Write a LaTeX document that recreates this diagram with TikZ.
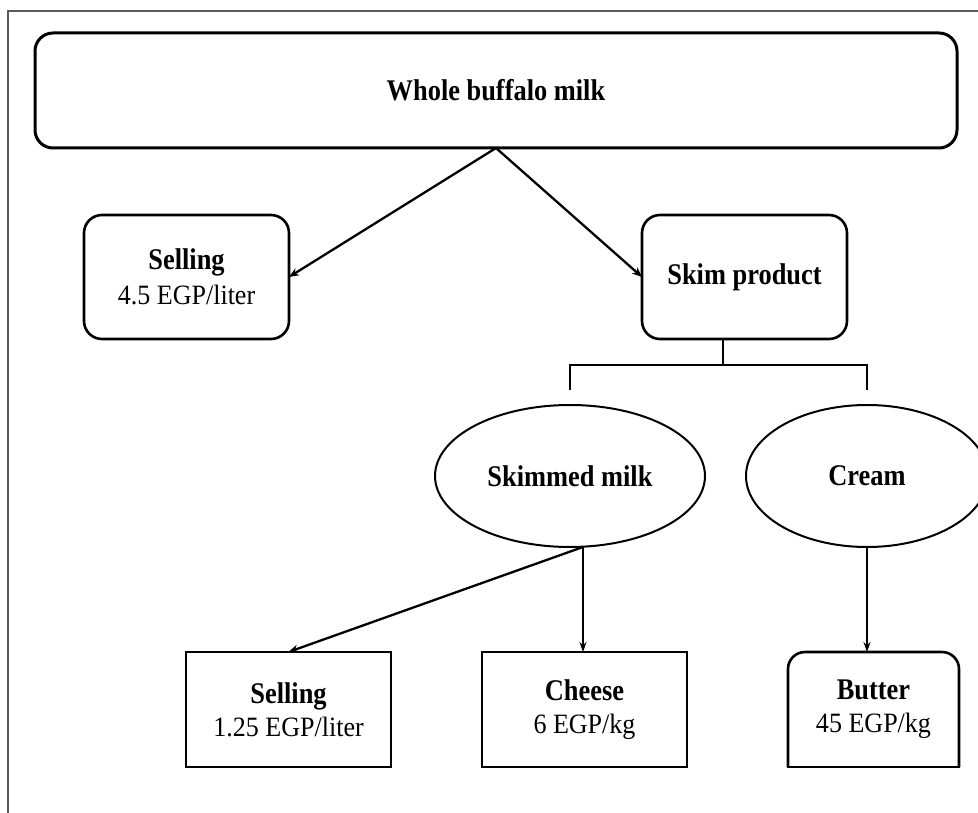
\documentclass[tikz,border=0pt]{standalone}
\usepackage{fontspec}
\setmainfont{Liberation Serif}[FakeStretch=0.88]
\newfontfamily\subfont{Liberation Serif}[FakeStretch=0.93]
\newcommand{\subtext}[1]{{\subfont\fontsize{28}{30}\selectfont\mdseries #1}}
\usetikzlibrary{arrows.meta,shapes.geometric}
\begin{document}
\begin{tikzpicture}[x=1pt,y=-1pt,
  every node/.style={inner sep=0pt,outer sep=0pt},
  rbox/.style={draw,line width=2.6pt,rounded corners=18pt,align=center,minimum width=205pt,minimum height=124pt,font=\fontsize{30}{32}\selectfont\bfseries},
  sbox/.style={draw,line width=2.6pt,align=center,minimum width=205pt,minimum height=115pt,font=\fontsize{30}{32}\selectfont\bfseries},
  oval/.style={draw,ellipse,line width=2pt,font=\fontsize{30}{32}\selectfont\bfseries},
  conn/.style={line width=2pt},
  arr/.style={line width=2.3pt,-{Stealth[length=10pt,width=8pt]}},
  thinarr/.style={line width=1.6pt,-{Stealth[length=10pt,width=7pt]}},
  frame/.style={draw=black!65,line width=1.2pt}
]
\useasboundingbox (0,0) rectangle (978,813);
\clip (0,0) rectangle (978,813);
\fill[white] (0,0) rectangle (978,813);
% partial frame
\draw[frame] (8,813) -- (8,11) -- (978,11);

% top box
\node[rbox,line width=3pt,minimum width=922pt,minimum height=115pt] (whole) at (496,90.5) {Whole buffalo milk};

% second level
\node[rbox] (sell1) at (186.5,277) {Selling\\[3pt]\subtext{4.5 EGP/liter}};
\node[rbox] (skim) at (744.5,277) {Skim product};

% ellipses
\node[oval,minimum width=270pt,minimum height=142pt] (skimmed) at (570,476) {Skimmed milk};
\node[oval,minimum width=242pt,minimum height=142pt] (cream) at (867,476) {Cream};

% bottom boxes
\node[sbox] (sell2) at (288.5,709.5) {Selling\\[1pt]\subtext{1.25 EGP/liter}};
\node[sbox] (cheese) at (584.5,709.5) {Cheese\\[1pt]\subtext{6 EGP/kg}};
\node[align=center,minimum width=171pt,minimum height=115pt,font=\fontsize{30}{32}\selectfont\bfseries] (butter) at (873.5,709.5) {Butter\\[1pt]\subtext{45 EGP/kg}};
\draw[line width=2.6pt,rounded corners=17pt] (butter.south west) -- (butter.north west) -- (butter.north east) -- (butter.south east);
\draw[line width=2.6pt,line cap=rect] (butter.south west) -- (butter.south east);

% connectors top
\coordinate (wtop) at (whole.south);
\draw[arr] (wtop) -- (sell1.east);
\draw[arr] (wtop) -- (skim.west);

% bracket
\coordinate (sk1) at ([xshift=-21.5pt]skim.south);
\coordinate (bl) at (skimmed.north |- 0,365);
\coordinate (br) at (cream.north |- 0,365);
\coordinate (blend) at (skimmed.north |- 0,390);
\coordinate (brend) at (cream.north |- 0,390);
\draw[conn] (sk1) -- (sk1 |- bl);
\draw[conn] (blend) -- (bl) -- (br) -- (brend);

% from skimmed milk
\coordinate (sm) at ([xshift=13pt]skimmed.south);
\draw[arr] (sm) -- (sell2.north);
\draw[thinarr] (sm) -- (sm |- cheese.north);
\draw[thinarr] (cream.south) -- (cream.south |- butter.north);
\end{tikzpicture}
\end{document}
